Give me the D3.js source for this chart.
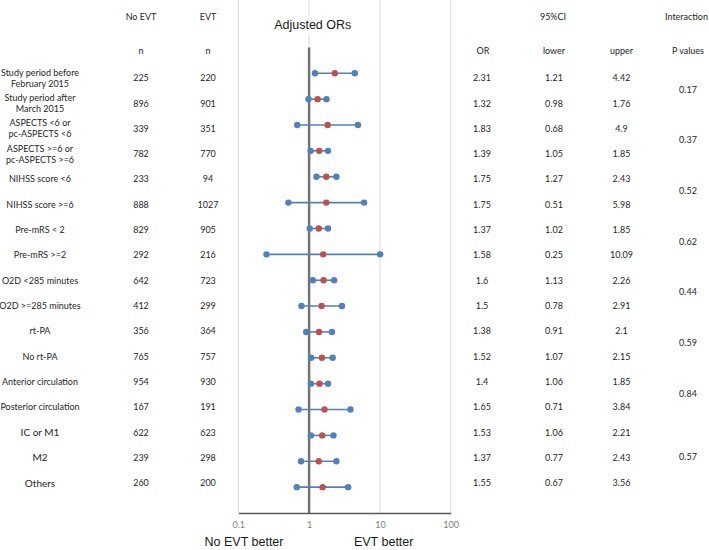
<!DOCTYPE html>
<html>
<head>
<meta charset="utf-8">
<script src="https://cdn.jsdelivr.net/npm/d3@7"></script>
<style>
  html, body { margin: 0; padding: 0; background: #fff; }
  svg { display: block; }
  .tbl { font-family: Lato, "Noto Sans", sans-serif; font-size: 9px; fill: #262626; }
</style>
</head>
<body>
<svg id="chart" width="709" height="550"></svg>
<script>
// --- datos ---
const subgroups = [
  ["Study period before", "February 2015"],
  ["Study period after", "March 2015"],
  ["ASPECTS <6 or", "pc-ASPECTS <6"],
  ["ASPECTS >=6 or", "pc-ASPECTS >=6"],
  ["NIHSS score <6"],
  ["NIHSS score >=6"],
  ["Pre-mRS < 2"],
  ["Pre-mRS >=2"],
  ["O2D <285 minutes"],
  ["O2D >=285 minutes"],
  ["rt-PA"],
  ["No rt-PA"],
  ["Anterior circulation"],
  ["Posterior circulation"],
  ["IC or M1"],
  ["M2"],
  ["Others"]
];
const nNoEvt = [225, 896, 339, 782, 233, 888, 829, 292, 642, 412, 356, 765, 954, 167, 622, 239, 260];
const nEvt   = [220, 901, 351, 770, 94, 1027, 905, 216, 723, 299, 364, 757, 930, 191, 623, 298, 200];
const oddsRatio = [2.31, 1.32, 1.83, 1.39, 1.75, 1.75, 1.37, 1.58, 1.6, 1.5, 1.38, 1.52, 1.4, 1.65, 1.53, 1.37, 1.55];
const ciLower   = [1.21, 0.98, 0.68, 1.05, 1.27, 0.51, 1.02, 0.25, 1.13, 0.78, 0.91, 1.07, 1.06, 0.71, 1.06, 0.77, 0.67];
const ciUpper   = [4.42, 1.76, 4.9, 1.85, 2.43, 5.98, 1.85, 10.09, 2.26, 2.91, 2.1, 2.15, 1.85, 3.84, 2.21, 2.43, 3.56];
const pValues = ["0.17", "0.37", "0.52", "0.62", "0.44", "0.59", "0.84", "0.57"];
const pGroups = [[0, 1], [2, 3], [4, 5], [6, 7], [8, 9], [10, 11], [12, 13], [14, 16]];
const xTicks = [0.1, 1, 10, 100];

const svg = d3.select("#chart");
const nRows = subgroups.length;

// escalas
const x = d3.scaleLog().domain([0.1, 100]).range([238.3, 450.7]);
const y = d3.scaleLinear().domain([0, nRows + 1]).range([513, 47.4]);   // filas del gráfico
const yt = d3.scaleLinear().domain([0, nRows - 1]).range([77.7, 482.7]); // filas de la tabla
const rowY = i => y(nRows - i);

// --- rejilla ---
svg.append("g").selectAll("line").data(xTicks).join("line")
  .attr("x1", d => x(d)).attr("x2", d => x(d))
  .attr("y1", 0).attr("y2", y(0))
  .attr("stroke", "#d9d9d9").attr("stroke-width", 1);

// título con fondo blanco
const title = svg.append("g").attr("transform", "translate(312.7,25)");
title.append("rect").attr("x", -40).attr("y", -9).attr("width", 80).attr("height", 18).attr("fill", "#fff");
title.append("text")
  .attr("text-anchor", "middle").attr("dominant-baseline", "central")
  .style("font-family", "'Liberation Sans', Arial, sans-serif").style("font-size", "12.5px").style("fill", "#1a1a1a")
  .text("Adjusted ORs");

// línea de referencia OR = 1
svg.append("line")
  .attr("x1", x(1)).attr("x2", x(1))
  .attr("y1", y(0)).attr("y2", y(nRows + 1))
  .attr("stroke", "#737373").attr("stroke-width", 2.5);

// eje
const axis = svg.append("g")
  .attr("transform", `translate(0,${y(0)})`)
  .call(d3.axisBottom(x).tickValues(xTicks).tickSize(0).tickPadding(9).tickFormat(d => d));
axis.select(".domain").attr("stroke", "#595959").attr("stroke-width", 1.5);
axis.selectAll("text")
  .style("font-family", "Lato, sans-serif").style("font-size", "9px").attr("fill", "#808080");

// --- intervalos ---
const rows = d3.range(nRows);
svg.append("g").selectAll("line").data(rows).join("line")
  .attr("x1", i => x(ciLower[i])).attr("x2", i => x(ciUpper[i]))
  .attr("y1", rowY).attr("y2", rowY)
  .attr("stroke", "#4f81bd").attr("stroke-width", 1.6);

const ends = rows.flatMap(i => [{ i, v: ciLower[i] }, { i, v: ciUpper[i] }]);
svg.append("g").selectAll("circle").data(ends).join("circle")
  .attr("cx", d => x(d.v)).attr("cy", d => rowY(d.i)).attr("r", 3.2)
  .attr("fill", "#4f81bd");

svg.append("g").selectAll("circle").data(rows).join("circle")
  .attr("cx", i => x(oddsRatio[i])).attr("cy", rowY).attr("r", 3.2)
  .attr("fill", "#c0504d");

// --- tabla ---
const tbl = svg.append("g").attr("class", "tbl");
const cell = (cx, cy, txt, size, anchor) => {
  const t = tbl.append("text")
    .attr("x", cx).attr("y", cy)
    .attr("text-anchor", anchor || "middle").attr("dominant-baseline", "central")
    .text(txt);
  if (size) t.style("font-size", size);
  return t;
};

// cabeceras
cell(141, 16.7, "No EVT");
cell(208, 16.7, "EVT");
cell(141, 50.7, "n");
cell(208, 50.7, "n");
cell(553, 16.7, "95%CI");
cell(708, 16.7, "Interaction", null, "end");
cell(688, 50.7, "P values");
cell(483, 50.7, "OR");
cell(554, 50.7, "lower");
cell(621.5, 50.7, "upper");

rows.forEach(i => {
  const cy = yt(i);
  const lines = subgroups[i];
  const big = i >= 14 ? "10px" : null;
  lines.forEach((s, k) => cell(40, cy + (k - (lines.length - 1) / 2) * 11, s, big));
  cell(141, cy, nNoEvt[i]);
  cell(208, cy, nEvt[i]);
  cell(482, cy, String(oddsRatio[i]));
  cell(554, cy, String(ciLower[i]));
  cell(621.5, cy, String(ciUpper[i]));
});

pGroups.forEach((g, k) => {
  cell(688, (yt(g[0]) + yt(g[1])) / 2 - 1, pValues[k]);
});

// leyendas inferiores
const foot = svg.append("g")
  .style("font-family", "'Liberation Sans', Arial, sans-serif").style("font-size", "12.5px").style("fill", "#1a1a1a");
foot.append("text").attr("x", 244).attr("y", 542).attr("text-anchor", "middle").attr("dominant-baseline", "central").text("No EVT better");
foot.append("text").attr("x", 383.7).attr("y", 542).attr("text-anchor", "middle").attr("dominant-baseline", "central").text("EVT better");
</script>
</body>
</html>
